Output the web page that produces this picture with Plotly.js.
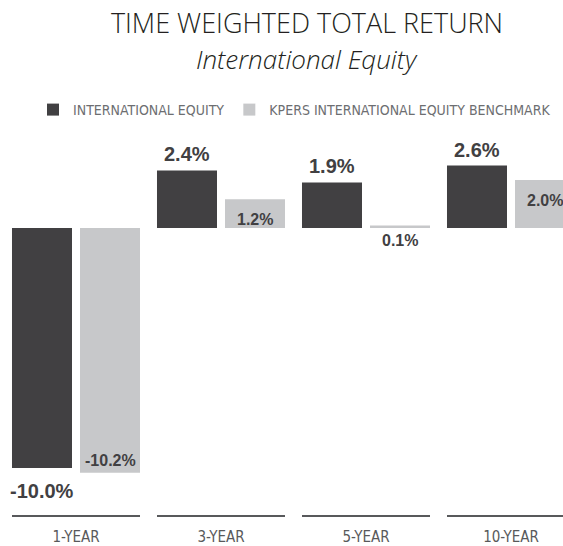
<!DOCTYPE html>
<html><head><meta charset="utf-8">
<script src="https://cdn.plot.ly/plotly-3.0.1.min.js"></script>
<style>html,body{margin:0;padding:0;background:#fff;} #chart{width:563px;height:546px;}</style>
</head><body><div id="chart"></div>
<script>
// ---- data ----
const categories = ['1-YEAR', '3-YEAR', '5-YEAR', '10-YEAR'];
const intlEquity = [-10.0, 2.4, 1.9, 2.6];
const benchmark = [-10.2, 1.2, 0.1, 2.0];
const seriesNames = ['INTERNATIONAL EQUITY', 'KPERS INTERNATIONAL EQUITY BENCHMARK'];
const titleText = 'TIME WEIGHTED TOTAL RETURN';
const subtitleText = 'International Equity';

// ---- style ----
const DARK = '#414042', LIGHT = '#c7c8ca';
const NARROW = '"Liberation Sans Narrow", "DejaVu Sans Condensed", sans-serif';
const BOLD = '"Liberation Sans", Arial, sans-serif';
const LIGHTFONT = '"Open Sans", "Noto Sans", sans-serif';
const W = 563, H = 546, MT = 130, MB = 30;
const yRange = [-12.0, 4.0833];
const pxPerUnit = (H - MT - MB) / (yRange[1] - yRange[0]);
const fmt = v => v.toFixed(1) + '%';

const traces = [
  {type: 'bar', name: seriesNames[0], x: categories, y: intlEquity,
   marker: {color: DARK}, hoverinfo: 'none'},
  {type: 'bar', name: seriesNames[1], x: categories, y: benchmark,
   marker: {color: LIGHT}, hoverinfo: 'none'}
];

const annotations = [];
categories.forEach((c, i) => {
  const a = intlEquity[i];
  annotations.push({x: c, y: a, xref: 'x', yref: 'y', xshift: -34,
    text: fmt(a), showarrow: false,
    yanchor: a >= 0 ? 'bottom' : 'top', yshift: a >= 0 ? 3 : -10,
    font: {family: BOLD, size: 20, weight: 700, color: DARK}});
  const b = benchmark[i];
  annotations.push({x: c, y: b, xref: 'x', yref: 'y', xshift: 34,
    text: fmt(b), showarrow: false,
    yanchor: b >= 0 ? 'top' : 'bottom',
    yshift: b >= 0 ? -Math.min(10, 2 + b * pxPerUnit) : 2,
    font: {family: BOLD, size: 16, weight: 700, color: DARK}});
});
annotations.push({text: '<i>' + subtitleText + '</i>', xref: 'paper', yref: 'paper',
  x: 307 / W, xanchor: 'center', y: (H - MB - 78) / (H - MT - MB), yanchor: 'bottom',
  borderpad: 0,
  showarrow: false, font: {family: LIGHTFONT, size: 26, weight: 300, color: '#231f20'}});

const shapes = categories.map((c, i) => ({
  type: 'line', xref: 'x', yref: 'paper', x0: i - 64 / 145, x1: i + 64 / 145, y0: 0, y1: 0,
  line: {color: '#58595b', width: 2}
}));

const layout = {
  width: W, height: H,
  margin: {l: 0, r: 0, t: MT, b: MB, pad: 0},
  paper_bgcolor: '#fff', plot_bgcolor: '#fff',
  barmode: 'group', bargap: 0.062, bargroupgap: 0.1176,
  title: {text: titleText, x: 307 / W, xanchor: 'center', xref: 'container',
    y: 1 - 14 / H, yanchor: 'top', yref: 'container', pad: {t: 0, b: 0, l: 0, r: 0},
    font: {family: LIGHTFONT, size: 27, weight: 300, color: '#231f20'}},
  xaxis: {type: 'category', range: [-76 / 145, (W - 76) / 145], fixedrange: true,
    showgrid: false, zeroline: false, showline: false,
    ticks: 'outside', ticklen: 7, tickcolor: 'rgba(0,0,0,0)',
    tickfont: {family: NARROW, size: 15, color: '#58595b'}},
  yaxis: {range: yRange, visible: false, showgrid: false, zeroline: false, fixedrange: true},
  showlegend: true,
  legend: {orientation: 'h', x: 33 / W, xanchor: 'left', y: (H - MB - 110) / (H - MT - MB), yanchor: 'middle',
    traceorder: 'normal',
    font: {family: NARROW, size: 14, color: '#6d6e71'}, bgcolor: 'rgba(0,0,0,0)'},
  annotations: annotations,
  shapes: shapes
};

Plotly.newPlot('chart', traces, layout, {displayModeBar: false, staticPlot: true});
</script>
</body></html>
